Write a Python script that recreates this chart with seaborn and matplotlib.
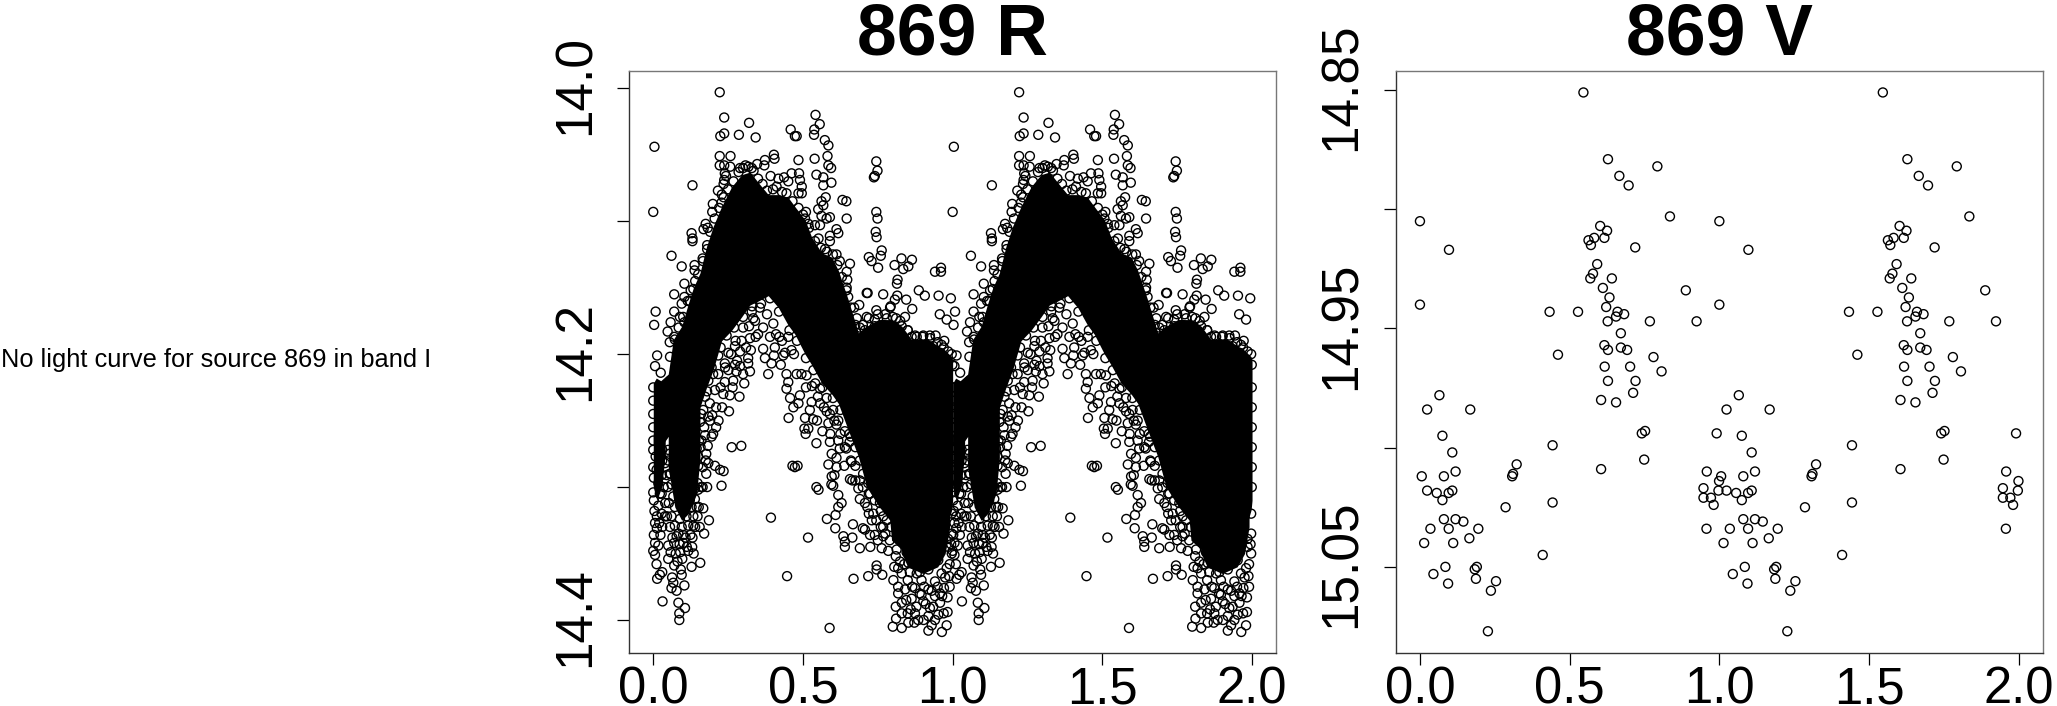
import numpy as np
import matplotlib
matplotlib.use("Agg")
import matplotlib.pyplot as plt
from matplotlib.transforms import ScaledTranslation
import seaborn as sns

# ---- V band: (phase, magnitude)
v_points = [
(0,14.905),(.097,14.917),(0,14.940),(.065,14.978),(.024,14.984),(.168,14.984),(.075,14.995),(.108,15.002),
(.119,15.010),(.006,15.012),(.080,15.012),(.024,15.018),(.056,15.019),(.096,15.019),(.108,15.018),(.075,15.022),
(.080,15.030),(.119,15.030),(.145,15.031),(.035,15.034),(.096,15.034),(.195,15.034),(.165,15.038),(.014,15.040),
(.111,15.040),(.085,15.050),(.190,15.050),(.183,15.051),(.045,15.053),(.187,15.055),(.094,15.057),(.254,15.056),
(.237,15.060),(.227,15.077),(.286,15.025),(.308,15.012),(.311,15.011),(.323,15.007),(.410,15.045),(.443,15.023),
(.443,14.999),(.433,14.943),(.461,14.961),(.528,14.943),(.546,14.851),(.605,15.009),(.605,14.980),(.655,14.981),
(.712,14.977),(.628,14.972),(.720,14.972),(.617,14.966),(.702,14.966),(.807,14.968),(.780,14.962),(.616,14.957),
(.628,14.959),(.671,14.958),(.692,14.959),(.671,14.952),(.627,14.947),(.655,14.945),(.660,14.943),(.682,14.944),
(.768,14.947),(.924,14.947),(.622,14.941),(.633,14.937),(.611,14.933),(.641,14.929),(.569,14.929),(.578,14.927),
(.592,14.923),(.888,14.934),(.719,14.916),(.563,14.913),(.571,14.915),(.582,14.912),(.616,14.912),(.625,14.909),
(.602,14.907),(.835,14.903),(.628,14.879),(.666,14.886),(.697,14.890),(.793,14.882),(.741,14.994),(.752,14.993),
(.749,15.005),(.958,15.010),(.999,15.014),(.997,15.018),(.947,15.017),(.947,15.021),(.972,15.021),(.981,15.024),
(.957,15.034),(.991,14.994),
]

# ---- R band: resolvable points around the saturated band
r_rise_top = [
(.222,14.003),(.237,14.022),(.320,14.026),(.237,14.034),(.224,14.036),(.286,14.035),(.342,14.037),(.459,14.031),
(.473,14.036),(.004,14.044),(.222,14.051),(.258,14.051),(.222,14.058),(.237,14.058),(.257,14.059),(.290,14.060),
(.308,14.058),(.329,14.060),(.347,14.057),(.373,14.054),(.403,14.050),(.405,14.053),(.371,14.058),(.239,14.064),
(.243,14.066),(.237,14.069),(.235,14.072),(.131,14.073),(.216,14.077),(.229,14.080),(0,14.093),(.199,14.087),
(.197,14.093),(.228,14.086),(.175,14.102),(.168,14.106),(.182,14.105),(.128,14.109),(.131,14.113),(.131,14.115),
(.180,14.121),(.061,14.126),(.095,14.134),(.138,14.133),(.138,14.137),(.166,14.130),(.104,14.147),(.134,14.151),
(.070,14.155),(.104,14.157),(.122,14.160),(.095,14.162),(.008,14.168),(.070,14.168),(.089,14.172),(.058,14.176),
(.003,14.178),(.104,14.176),(.048,14.183),(.072,14.189),(.055,14.191),(.013,14.201),(.056,14.202),(.392,14.066),
(.418,14.068),(.437,14.067),(.462,14.064),(.451,14.070),(.412,14.074),
]
r_under_crest = [
(.329,14.168),(.356,14.165),(.334,14.173),(.367,14.180),(.401,14.177),(.390,14.187),(.421,14.187),(.451,14.187),
(.320,14.179),(.342,14.187),(.323,14.188),(.326,14.197),(.295,14.190),(.367,14.196),(.406,14.195),(.440,14.199),
(.462,14.197),(.290,14.198),(.373,14.203),(.403,14.201),(.434,14.201),(.317,14.203),(.273,14.194),(.251,14.199),
(.217,14.201),(.006,14.209),(.025,14.214),(.056,14.220),(.317,14.207),(.323,14.213),(.290,14.209),(.304,14.222),
(.384,14.215),(.288,14.232),(.253,14.243),(.218,14.250),(.197,14.246),(.195,14.262),(.262,14.270),(.294,14.269),
(.170,14.255),(.182,14.269),(.177,14.275),(.184,14.282),(.206,14.284),(.150,14.284),(.223,14.287),(.235,14.288),
(.177,14.290),(.180,14.300),(.228,14.299),(.148,14.297),(.150,14.302),(.167,14.316),(.186,14.325),(.148,14.322),
(.134,14.329),(.131,14.338),(.393,14.323),(.447,14.367),(.465,14.284),(.473,14.285),(.452,14.248),(.468,14.240),
(.457,14.233),(.445,14.226),(.451,14.221),(.445,14.215),(.395,14.207),(.426,14.208),(.189,14.237),(.206,14.227),
(.234,14.230),(.256,14.231),(.239,14.221),(.267,14.220),(.278,14.213),(.251,14.212),(.217,14.215),(.184,14.220),
(.195,14.210),(.239,14.207),(.273,14.208),(.173,14.232),(.167,14.242),(.184,14.247),(.156,14.251),(.173,14.261),
(.153,14.265),(.19,14.25),(.21,14.24),(.225,14.225),(.24,14.21),(.26,14.20),(.275,14.19),(.28,14.205),(.30,14.18),
(.31,14.195),(.34,14.175),(.35,14.185),(.38,14.17),(.41,14.185),(.43,14.19),(.2,14.26),(.175,14.28),(.165,14.30),
(.21,14.255),(.23,14.24),(.265,14.225),(.30,14.215),(.155,14.33),(.17,14.335),
]
r_early_low = [
(.012,14.331),(.002,14.336),(.006,14.342),(.017,14.344),(0,14.348),(.006,14.351),(.011,14.358),(.030,14.364),
(.022,14.366),(.013,14.369),(.050,14.344),(.070,14.342),(.058,14.349),(.100,14.342),(.117,14.348),(.135,14.350),
(.050,14.354),(.081,14.356),(.097,14.354),(.070,14.359),(.128,14.360),(.157,14.357),(.092,14.362),(.095,14.366),
(.063,14.368),(.067,14.372),(.061,14.376),(.078,14.378),(.104,14.374),(.031,14.386),(.084,14.387),(.106,14.391),
(.087,14.395),(.087,14.400),(0,14.272),(.008,14.277),(0,14.285),(.011,14.287),(.002,14.293),(.017,14.297),
(0,14.304),(.022,14.305),(.002,14.310),(.017,14.314),(.028,14.320),(.039,14.322),(.050,14.280),(.072,14.290),
(.095,14.291),(.117,14.292),(.061,14.298),(.089,14.300),(.117,14.301),(.139,14.301),(.067,14.307),(.095,14.307),
(.122,14.310),(.139,14.309),(.072,14.315),(.100,14.316),(.128,14.315),(.145,14.315),(.061,14.322),(.089,14.324),
(.111,14.322),(.134,14.322),(.072,14.329),(.095,14.330),(.117,14.329),(.084,14.335),(.100,14.336),(.039,14.282),
(.045,14.291),(.028,14.291),(.050,14.272),(.072,14.270),(.095,14.273),(.122,14.272),(.145,14.271),(.161,14.265),
(.150,14.277),(.128,14.280),(.100,14.282),(.072,14.281),(0,14.225),(0,14.235),(0,14.245),(0,14.255),(0,14.265),
(.004,14.318),(.012,14.322),(.020,14.327),(.030,14.33),(.006,14.327),(.024,14.336),(.048,14.30),(.052,14.312),
(.046,14.322),(.056,14.33),(.064,14.338),(.078,14.337),(.088,14.343),(.108,14.338),(.124,14.336),(.14,14.33),
(.152,14.315),(.16,14.30),(.165,14.285),(.158,14.27),(.035,14.30),(.04,14.312),(.03,14.28),(.028,14.305),
(.054,14.275),(.058,14.29),(.112,14.345),(.13,14.345),(.075,14.35),(.09,14.349),
]
r_fall_top = [
(.542,14.020),(.556,14.027),(.538,14.031),(.537,14.035),(.479,14.036),(.573,14.039),(.585,14.043),(.485,14.054),
(.539,14.053),(.582,14.051),(.585,14.058),(.594,14.060),(.545,14.065),(.568,14.067),(.568,14.073),(.595,14.071),
(.487,14.064),(.490,14.069),(.496,14.074),(.485,14.079),(.496,14.079),(.576,14.082),(.562,14.085),(.568,14.088),
(.551,14.091),(.632,14.084),(.645,14.085),(.590,14.097),(.579,14.098),(.646,14.098),(.562,14.096),(.540,14.103),
(.557,14.103),(.510,14.093),(.507,14.098),(.518,14.102),(.612,14.106),(.618,14.109),(.590,14.111),(.590,14.115),
(.552,14.113),(.574,14.121),(.612,14.125),(.623,14.130),(.657,14.132),(.646,14.138),(.648,14.144),(.646,14.150),
(.651,14.157),
]
r_second_hump_top = [
(.745,14.055),(.749,14.062),(.740,14.066),(.737,14.067),(.745,14.093),(.749,14.098),(.743,14.108),(.746,14.112),
(.763,14.122),(.760,14.126),(.720,14.127),(.729,14.130),(.751,14.135),(.806,14.133),(.829,14.128),(.835,14.136),
(.852,14.134),(.864,14.129),(.941,14.138),(.961,14.135),(.961,14.138),(.816,14.144),(.814,14.147),(.713,14.154),
(.716,14.154),(.768,14.155),(.887,14.152),(.907,14.156),(.953,14.156),(.994,14.158),(.815,14.156),(.807,14.159),
(.845,14.159),(.791,14.165),(.793,14.164),(.745,14.167),(.865,14.166),(.841,14.172),(.811,14.173),(.957,14.170),
(.980,14.174),(.688,14.163),(.671,14.165),(.680,14.173),(.713,14.172),(.740,14.174),(.780,14.173),(.850,14.182),
(.880,14.187),(.902,14.186),(.924,14.186),(.943,14.186),(.972,14.190),(.997,14.200),(.958,14.199),(.690,14.180),
(.679,14.184),(.707,14.182),(.740,14.179),(.768,14.178),(.802,14.179),(.830,14.179),(.863,14.187),(.685,14.190),
(.702,14.197),(.907,14.194),(.935,14.194),(.963,14.193),(.999,14.208),(.974,14.207),(.946,14.208),
]
r_fall_low = [
(.482,14.284),(.545,14.300),(.552,14.302),(.517,14.338),(.589,14.406),(.669,14.369),(.718,14.367),(.746,14.359),
(.746,14.362),(.765,14.366),(.690,14.346),(.725,14.345),(.640,14.345),(.640,14.341),(.635,14.337),(.665,14.338),
(.608,14.331),(.580,14.324),(.609,14.321),(.618,14.315),(.629,14.312),(.618,14.306),(.667,14.328),(.700,14.331),
(.707,14.332),(.724,14.336),(.740,14.336),(.763,14.346),(.785,14.348),(.768,14.337),(.768,14.330),(.601,14.299),
(.595,14.298),(.605,14.291),(.596,14.292),(.657,14.294),(.665,14.295),(.585,14.283),(.612,14.285),(.638,14.284),
(.675,14.284),(.662,14.281),(.596,14.275),(.612,14.278),(.545,14.267),(.590,14.266),(.509,14.260),(.518,14.256),
(.505,14.256),(.565,14.258),(.507,14.248),(.534,14.249),(.547,14.250),(.523,14.242),(.485,14.237),(.490,14.231),
(.529,14.236),(.557,14.237),(.579,14.243),(.585,14.252),(.612,14.253),(.591,14.260),(.618,14.265),(.623,14.271),
(.645,14.271),(.656,14.266),(.479,14.215),(.512,14.216),(.541,14.222),(.557,14.226),(.579,14.233),(.601,14.242),
(.618,14.250),(.640,14.258),(.685,14.301),(.690,14.309),(.707,14.312),(.735,14.320),(.757,14.312),(.779,14.312),
(.724,14.305),(.740,14.310),(.768,14.322),(.701,14.290),(.718,14.297),(.752,14.305),(.66,14.28),(.675,14.295),
(.69,14.295),(.70,14.30),(.715,14.315),(.73,14.325),(.745,14.325),(.76,14.33),(.775,14.335),(.79,14.34),
(.675,14.27),(.64,14.27),(.66,14.262),(.625,14.26),(.605,14.25),(.59,14.245),(.57,14.24),(.55,14.232),
(.53,14.224),(.51,14.225),(.495,14.215),(.47,14.20),(.72,14.32),(.75,14.34),(.78,14.325),
]
r_trough_low = [
(.811,14.399),(.800,14.405),(.830,14.406),(.852,14.402),(.872,14.402),(.903,14.400),(.919,14.408),(.941,14.400),
(.952,14.396),(.964,14.409),(.980,14.404),(.983,14.394),(.860,14.392),(.879,14.390),(.830,14.387),(.902,14.386),
(.924,14.391),(.958,14.387),(.983,14.383),(.818,14.380),(.863,14.384),(.919,14.377),(.971,14.376),(.802,14.370),
(.818,14.375),(.841,14.377),(.874,14.376),(.896,14.370),(.941,14.371),(.958,14.380),(.824,14.356),(.818,14.361),
(.852,14.357),(.885,14.356),(.857,14.364),(.891,14.364),(.919,14.362),(.952,14.355),(.980,14.361),(.963,14.365),
(.988,14.367),(.997,14.350),(.985,14.345),(.997,14.335),(.985,14.339),(.891,14.350),(.919,14.349),(.846,14.349),
(.813,14.347),(.941,14.345),(.963,14.344),(.874,14.395),(.896,14.381),(.941,14.382),(.919,14.397),(.997,14.320),
(.999,14.225),(.999,14.240),(.999,14.255),(.999,14.270),(.999,14.285),(.999,14.300),(.805,14.36),(.81,14.352),
(.83,14.365),(.838,14.358),(.85,14.37),(.865,14.375),(.88,14.365),(.89,14.38),(.905,14.375),(.91,14.388),
(.93,14.378),(.935,14.39),(.95,14.375),(.965,14.382),(.975,14.368),(.99,14.358),(.995,14.343),(.83,14.395),
(.845,14.385),(.885,14.4),(.93,14.404),(.97,14.395),(.85,14.395),(.99,14.375),(.81,14.39),
]
r_band_upper_edge = [
(.07,14.187),(.085,14.18),(.10,14.172),(.115,14.160),(.125,14.152),(.14,14.145),(.15,14.14),(.165,14.128),
(.18,14.118),(.19,14.108),(.205,14.098),(.22,14.09),(.235,14.082),(.25,14.076),(.268,14.07),(.285,14.063),
(.30,14.06),(.318,14.059),(.335,14.062),(.35,14.068),(.365,14.072),(.38,14.077),(.40,14.076),(.43,14.078),
(.445,14.079),(.465,14.085),(.485,14.09),(.50,14.095),(.52,14.105),(.54,14.115),(.56,14.12),(.58,14.123),
(.60,14.125),(.615,14.133),(.63,14.142),(.645,14.152),(.66,14.165),(.675,14.178),(.70,14.178),(.72,14.173),
(.75,14.17),(.775,14.17),(.80,14.172),(.825,14.175),(.85,14.182),(.875,14.186),(.90,14.187),(.925,14.188),
(.95,14.191),(.97,14.195),(.985,14.198),
]
r_band_lower_edge = [
(.03,14.272),(.055,14.29),(.16,14.245),(.18,14.228),(.20,14.215),(.225,14.195),(.245,14.186),(.27,14.18),
(.30,14.172),(.33,14.164),(.36,14.162),(.39,14.158),(.42,14.168),(.455,14.182),(.48,14.19),(.51,14.203),
(.535,14.212),(.565,14.225),(.60,14.233),(.625,14.242),(.655,14.26),(.69,14.28),(.72,14.305),(.76,14.318),
(.795,14.33),
]
r_groups = [r_rise_top, r_under_crest, r_early_low, r_fall_top, r_second_hump_top, r_fall_low, r_trough_low,
            r_band_upper_edge, r_band_lower_edge]

# Saturated band: individual points cannot be read there, so its limits are read instead
band_phase = [0,.010,.025,.05,.067,.095,.117,.134,.156,.178,.2,.228,.262,.295,.323,.351,.384,.418,.45,.473,.507,
              .529,.563,.596,.618,.651,.685,.713,.752,.79,.796,.83,.863,.919,.952,.974,.997,1.0]
band_upper = [14.222,14.218,14.22,14.215,14.189,14.179,14.162,14.150,14.139,14.119,14.104,14.089,14.074,14.065,14.063,
              14.071,14.080,14.080,14.082,14.089,14.099,14.112,14.124,14.127,14.137,14.159,14.184,14.179,14.174,14.174,
              14.174,14.179,14.189,14.189,14.194,14.197,14.202,14.205]
band_lower = [14.268,14.270,14.27,14.262,14.260,14.258,14.258,14.255,14.240,14.225,14.212,14.190,14.182,14.172,14.163,
              14.160,14.156,14.165,14.178,14.185,14.200,14.208,14.222,14.230,14.237,14.257,14.277,14.300,14.314,14.325,
              14.340,14.347,14.350,14.352,14.347,14.335,14.317,14.310]
# Dark, nearly saturated lobes under the band
lobe_left_phase = [0,.012,.028,.04]
lobe_left_upper = [14.26,14.26,14.26,14.26]
lobe_left_lower = [14.30,14.31,14.30,14.275]
lobe_right_phase = [.05,.072,.095,.117,.145,.156]
lobe_right_upper = [14.258,14.258,14.255,14.255,14.24,14.24]
lobe_right_lower = [14.285,14.315,14.325,14.32,14.305,14.278]
lobe_trough_phase = [.83,.85,.9,.95,.975,.99]
lobe_trough_upper = [14.34,14.34,14.34,14.34,14.33,14.315]
lobe_trough_lower = [14.35,14.36,14.365,14.36,14.35,14.33]
dark_regions = [(band_phase, band_upper, band_lower), (lobe_left_phase, lobe_left_upper, lobe_left_lower),
                (lobe_right_phase, lobe_right_upper, lobe_right_lower),
                (lobe_trough_phase, lobe_trough_upper, lobe_trough_lower)]

titles = ["869 R", "869 V"]
message = "No light curve for source 869 in band I"
x_ticks = [0.0, 0.5, 1.0, 1.5, 2.0]
x_labels = ["0.0", "0.5", "1.0", "1.5", "2.0"]
r_yticks = [14.0, 14.1, 14.2, 14.3, 14.4]
r_ylabels = ["14.0", "", "14.2", "", "14.4"]
v_yticks = [14.85, 14.90, 14.95, 15.00, 15.05]
v_ylabels = ["14.85", "", "14.95", "", "15.05"]

sns.set_style("white")
plt.rcParams["font.family"] = ["Liberation Sans", "DejaVu Sans"]

W, H = 2057, 706
fig = plt.figure(figsize=(W / 100, H / 100), dpi=100, facecolor="white")

def make_axes(l, r, t, b):
    return fig.add_axes([l / W, 1 - b / H, (r - l) / W, (b - t) / H])

ax_r = make_axes(629.3, 1276.3, 71, 652.7)
ax_v = make_axes(1396, 2043, 71, 652.7)

def rings(ax, pts):
    p = np.array([q[0] for q in pts], dtype=float)
    m = np.array([q[1] for q in pts], dtype=float)
    sns.scatterplot(x=np.concatenate([p, p + 1]), y=np.concatenate([m, m]), ax=ax, marker="o",
                    s=42, facecolors="none", edgecolor="black", linewidth=1.0, legend=False, zorder=3, clip_on=False)

for ph, up, lo in dark_regions:
    ph = np.array(ph)
    ax_r.fill_between(ph, up, lo, color="black", lw=0, zorder=2)
    ax_r.fill_between(ph + 1, up, lo, color="black", lw=0, zorder=2)
for g in r_groups:
    rings(ax_r, g)
rings(ax_v, v_points)

def style(ax, title, ylim, yt, yl):
    ax.set_xlim(-0.08, 2.081)
    ax.set_ylim(*ylim)
    ax.set_xticks(x_ticks)
    ax.set_xticklabels(x_labels)
    ax.set_yticks(yt)
    ax.set_yticklabels(yl, rotation=90, va="center")
    ax.tick_params(axis="x", length=8.5, width=0.9, labelsize=36.5, pad=0.5, color="black", labelcolor="black", bottom=True)
    ax.tick_params(axis="y", length=8.5, width=0.9, labelsize=37, pad=12.5, color="black", labelcolor="black", left=True)
    up = ScaledTranslation(0, 3 / 100, fig.dpi_scale_trans)
    for lab in ax.get_yticklabels():
        lab.set_transform(lab.get_transform() + up)
    ax.set_xlabel("")
    ax.set_ylabel("")
    ax.set_title(title, fontsize=51.5, fontweight="bold", pad=12, color="black")
    for name, sp in ax.spines.items():
        sp.set_visible(True)
        sp.set_linewidth(1.0)
        sp.set_color("#777777" if name in ("top", "right") else "#333333")

style(ax_r, titles[0], (14.4246, 13.987), r_yticks, r_ylabels)
style(ax_v, titles[1], (15.086, 14.842), v_yticks, v_ylabels)

fig.text(1 / W, 1 - 360 / H, message, fontsize=18.3, ha="left", va="center", color="black")

fig.savefig("out.png", dpi=100, facecolor="white")
